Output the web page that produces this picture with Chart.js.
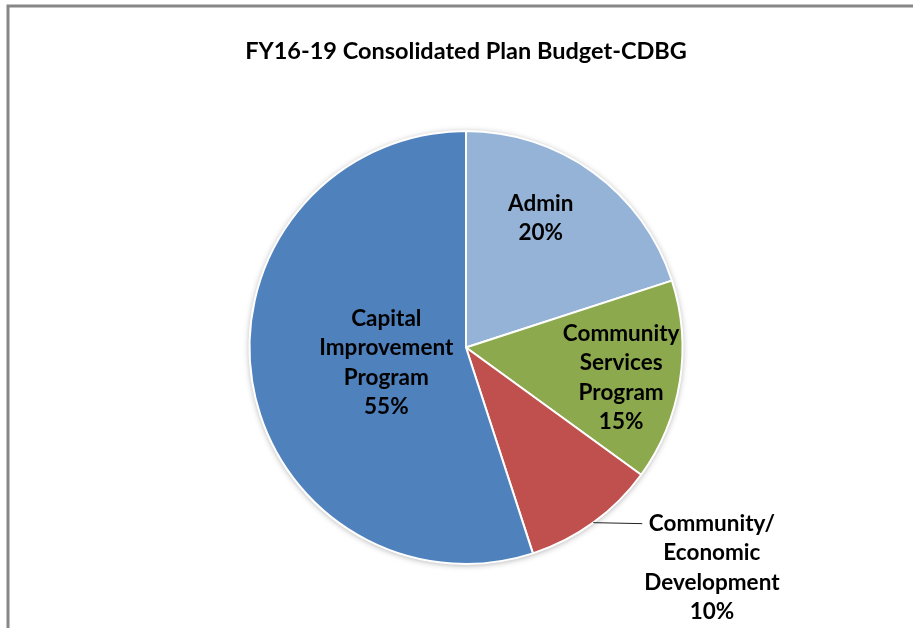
<!DOCTYPE html>
<html>
<head>
<meta charset="utf-8">
<title>FY16-19 Consolidated Plan Budget-CDBG</title>
<script src="https://cdn.jsdelivr.net/npm/chart.js@4"></script>
<style>
  html, body { margin: 0; padding: 0; background: #fff; }
  canvas { display: block; }
</style>
</head>
<body>
<canvas id="budgetChart" width="913" height="628"></canvas>
<script>
// Budget shares (percent of total CDBG budget), clockwise from 12 o'clock
const categories = ['Admin', 'Community Services Program', 'Community/ Economic Development', 'Capital Improvement Program'];
const labelLines = [
    ['Admin'],
    ['Community', 'Services', 'Program'],
    ['Community/', 'Economic', 'Development'],
    ['Capital', 'Improvement', 'Program']
];
const shares = [20, 15, 10, 55];
const sliceColors = ['#95B3D7', '#8DA94E', '#C0504D', '#4F81BD'];

const FONT = 'Lato, "Liberation Sans", sans-serif';

// where each label sits: fraction of the radius, small angle tweak in degrees,
// or outside with a leader line
const labelPlacement = [
    { r: 0.69, turn: -6 },
    { r: 0.73, turn: 2 },
    { outside: true },
    { r: 0.375, turn: -2 }
];

// Gray chart frame (top and left edges)
const framePlugin = {
    id: 'frame',
    beforeDraw(chart) {
        const ctx = chart.ctx;
        ctx.save();
        ctx.strokeStyle = '#878787';
        ctx.lineWidth = 3;
        ctx.strokeRect(8, 6, 2000, 2000);
        ctx.restore();
    }
};

// Soft shadow behind the whole pie
const pieShadow = {
    id: 'pieShadow',
    beforeDatasetsDraw(chart) {
        const arc = chart.getDatasetMeta(0).data[0];
        if (!arc) return;
        const p = arc.getProps(['x', 'y', 'outerRadius'], true);
        const ctx = chart.ctx;
        ctx.save();
        ctx.shadowColor = 'rgba(0, 0, 0, 0.35)';
        ctx.shadowBlur = 6;
        ctx.shadowOffsetY = 1;
        ctx.fillStyle = '#fff';
        ctx.beginPath();
        ctx.arc(p.x, p.y, p.outerRadius, 0, Math.PI * 2);
        ctx.fill();
        ctx.restore();
    }
};

// Category name + percentage on each slice
const sliceLabels = {
    id: 'sliceLabels',
    afterDatasetsDraw(chart) {
        const ctx = chart.ctx;
        const meta = chart.getDatasetMeta(0);
        const lineHeight = 29.5;
        ctx.save();
        ctx.font = 'bold 22.5px ' + FONT;
        ctx.fillStyle = '#000';
        ctx.textAlign = 'center';
        ctx.textBaseline = 'middle';
        meta.data.forEach((arc, i) => {
            const p = arc.getProps(['x', 'y', 'startAngle', 'endAngle', 'outerRadius'], true);
            const place = labelPlacement[i];
            const lines = labelLines[i].concat(shares[i] + '%');
            let mid = (p.startAngle + p.endAngle) / 2;
            let cx, topY;
            if (place.outside) {
                const ex = p.x + Math.cos(mid) * p.outerRadius;
                const ey = p.y + Math.sin(mid) * p.outerRadius;
                const endX = ex + 49;
                ctx.save();
                ctx.strokeStyle = '#222';
                ctx.lineWidth = 1;
                ctx.beginPath();
                ctx.moveTo(ex, ey);
                ctx.lineTo(endX, ey + 1);
                ctx.stroke();
                ctx.restore();
                const widest = Math.max(...lines.map(t => ctx.measureText(t).width));
                cx = endX + 2 + widest / 2;
                topY = ey + 1;
            } else {
                mid += place.turn * Math.PI / 180;
                cx = p.x + Math.cos(mid) * p.outerRadius * place.r;
                const cy = p.y + Math.sin(mid) * p.outerRadius * place.r;
                topY = cy - (lines.length - 1) * lineHeight / 2;
            }
            lines.forEach((t, k) => ctx.fillText(t, cx, topY + k * lineHeight));
        });
        ctx.restore();
    }
};

const ctx = document.getElementById('budgetChart').getContext('2d');
new Chart(ctx, {
    type: 'pie',
    data: {
        labels: categories,
        datasets: [{
            data: shares,
            backgroundColor: sliceColors,
            borderColor: '#ffffff',
            borderWidth: 2
        }]
    },
    options: {
        responsive: false,
        animation: false,
        devicePixelRatio: 1,
        layout: {
            padding: { left: 40, right: 21, top: 0, bottom: 63 }
        },
        plugins: {
            legend: { display: false },
            tooltip: { enabled: false },
            title: {
                display: true,
                text: 'FY16-19 Consolidated Plan Budget-CDBG',
                color: '#000',
                font: { family: FONT, size: 23.5, weight: 'bold' },
                padding: { top: 37, bottom: 64.8 }
            }
        }
    },
    plugins: [framePlugin, pieShadow, sliceLabels]
});
</script>
</body>
</html>
